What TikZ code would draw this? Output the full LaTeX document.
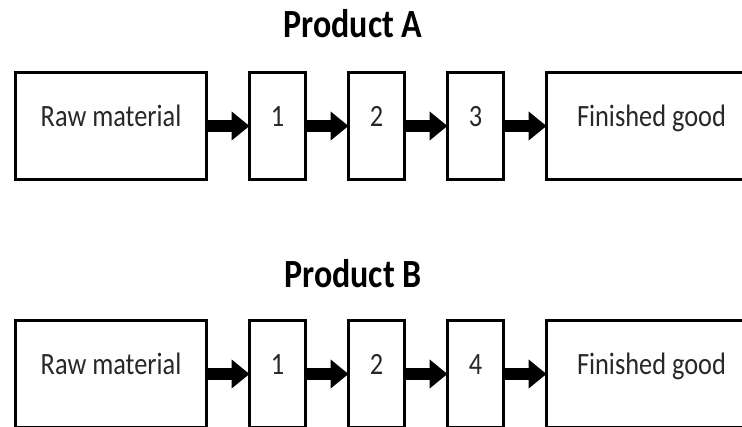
\documentclass[tikz,border=0pt]{standalone}
\usepackage{fontspec}
\setmainfont{Carlito}[FakeStretch=0.85]
\usepackage{tikz}
\usetikzlibrary{positioning, arrows.meta}
\definecolor{tinta}{RGB}{40, 40, 40}
\tikzset{
    stage/.style={draw, rectangle, line width=3pt, outer sep=0pt, inner sep=0pt,
                  minimum height=107pt, text=tinta, text height=22pt, text depth=20pt,
                  font=\fontsize{31}{36}\selectfont},
    stageWide/.style={stage, minimum width=191pt},
    stageLow/.style={stage, minimum width=56pt},
    title/.style={anchor=base, font=\fontsize{40}{46}\selectfont\bfseries},
    flow/.style={line width=12pt, -{Triangle[length=18pt, width=28pt]}},
}
\begin{document}
\begin{tikzpicture}[x=1pt, y=-1pt, node distance=43pt]
    \useasboundingbox (0,0) rectangle (742,427);

    % first product line
    \node [title] (tA) at (353,38) {Product A};
    \node [stageWide, anchor=north west] (rawA) at (15.5,72.5) {Raw material};
    \node [stageLow, right=of rawA] (a1) {1};
    \node [stageLow, right=of a1] (a2) {2};
    \node [stageLow, right=of a2] (a3) {3};
    \node [stage, minimum width=210pt, right=of a3] (finA) {Finished good};

    \draw[flow] (rawA) -- (a1);
    \draw[flow] (a1) -- (a2);
    \draw[flow] (a2) -- (a3);
    \draw[flow] (a3) -- (finA);

    % second product line
    \node [title] (tB) at (353,288) {Product B};
    \node [stageWide, anchor=north west] (rawB) at (15.5,320.5) {Raw material};
    \node [stageLow, right=of rawB] (b1) {1};
    \node [stageLow, right=of b1] (b2) {2};
    \node [stageLow, right=of b2] (b4) {4};
    \node [stage, minimum width=210pt, right=of b4] (finB) {Finished good};

    \draw[flow] (rawB) -- (b1);
    \draw[flow] (b1) -- (b2);
    \draw[flow] (b2) -- (b4);
    \draw[flow] (b4) -- (finB);
\end{tikzpicture}
\end{document}
